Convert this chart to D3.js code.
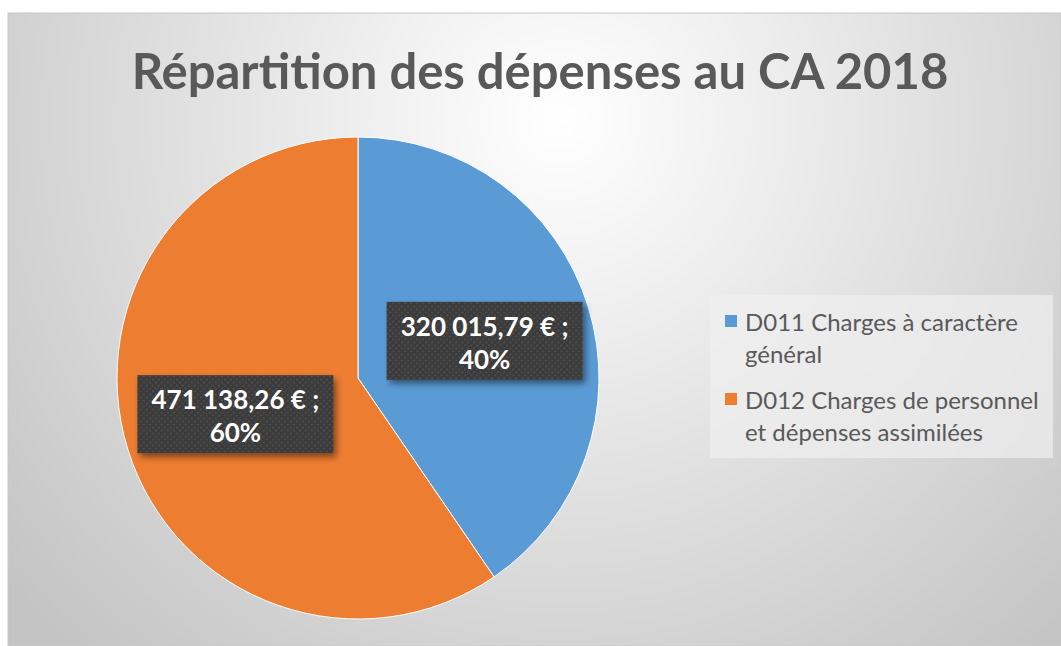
<!DOCTYPE html>
<html>
<head>
<meta charset="utf-8">
<script src="https://cdn.jsdelivr.net/npm/d3@7"></script>
<style>
  body { margin: 0; background: #fff; }
  svg { display: block; }
</style>
</head>
<body>
<svg id="chart"></svg>
<script>
// Chart data
const categories = ["D011 Charges à caractère général", "D012 Charges de personnel et dépenses assimilées"];
const values = [320015.79, 471138.26];
const valueLabels = ["320 015,79 € ;", "471 138,26 € ;"];
const percentLabels = ["40%", "60%"];
const legendLines = [["D011 Charges à caractère", "général"], ["D012 Charges de personnel", "et dépenses assimilées"]];
const colors = ["#5b9bd5", "#ed7d31"];
const title = "Répartition des dépenses au CA 2018";

const svgWidth = 1061;
const svgHeight = 646;
const font = "Lato, 'Open Sans', sans-serif";

const svg = d3.select("#chart")
    .attr("width", svgWidth)
    .attr("height", svgHeight);

const defs = svg.append("defs");

// Background gradient (light in the top middle, grey at the edges)
const bg = defs.append("radialGradient")
    .attr("id", "bgGrad")
    .attr("gradientUnits", "userSpaceOnUse")
    .attr("cx", 560).attr("cy", 120).attr("r", 720);
bg.append("stop").attr("offset", "0%").attr("stop-color", "#ffffff");
bg.append("stop").attr("offset", "100%").attr("stop-color", "#c4c4c4");

// Dot pattern for the label boxes
const pat = defs.append("pattern")
    .attr("id", "dots")
    .attr("width", 6).attr("height", 6)
    .attr("patternUnits", "userSpaceOnUse");
pat.append("rect").attr("width", 6).attr("height", 6).attr("fill", "#3a3a3a");
pat.append("circle").attr("cx", 1.5).attr("cy", 1.5).attr("r", 1).attr("fill", "#555");
pat.append("circle").attr("cx", 4.5).attr("cy", 4.5).attr("r", 1).attr("fill", "#555");

// Shadow
const shadow = defs.append("filter").attr("id", "shadow")
    .attr("x", "-20%").attr("y", "-20%").attr("width", "150%").attr("height", "160%");
shadow.append("feDropShadow")
    .attr("dx", 3).attr("dy", 4).attr("stdDeviation", 3)
    .attr("flood-color", "#000").attr("flood-opacity", 0.45);

svg.append("rect")
    .attr("x", 8).attr("y", 13)
    .attr("width", svgWidth - 8).attr("height", svgHeight - 13)
    .attr("fill", "url(#bgGrad)")
    .attr("stroke", "#c8c8c8");

// Title
svg.append("text")
    .attr("x", 540).attr("y", 89)
    .attr("text-anchor", "middle")
    .attr("font-family", font)
    .attr("font-weight", "bold")
    .attr("font-size", "49px")
    .attr("fill", "#595959")
    .text(title);

// Pie
const cx = 358, cy = 378, radius = 241;
const pie = d3.pie().sort(null).value(d => d);
const arc = d3.arc().innerRadius(0).outerRadius(radius);
const arcs = pie(values);

const g = svg.append("g").attr("transform", `translate(${cx}, ${cy})`);

g.selectAll(".slice")
    .data(arcs)
    .enter()
    .append("path")
    .attr("class", "slice")
    .attr("d", arc)
    .attr("fill", (d, i) => colors[i])
    .attr("stroke", "#fff")
    .attr("stroke-width", 1);

// Data labels
const labelArc = d3.arc().innerRadius(radius * 0.55).outerRadius(radius * 0.55);
const boxW = 196, boxH = 78;
const labelOffsets = [[0, 2], [4, -3]];

const labels = g.selectAll(".label")
    .data(arcs)
    .enter()
    .append("g")
    .attr("class", "label")
    .attr("transform", (d, i) => {
        const [x, y] = labelArc.centroid(d);
        return `translate(${x + labelOffsets[i][0]}, ${y + labelOffsets[i][1]})`;
    });

labels.append("rect")
    .attr("x", -boxW / 2).attr("y", -boxH / 2)
    .attr("width", boxW).attr("height", boxH)
    .attr("fill", "url(#dots)")
    .attr("filter", "url(#shadow)");

labels.append("text")
    .attr("text-anchor", "middle")
    .attr("y", -5)
    .attr("font-family", font)
    .attr("font-weight", "bold")
    .attr("font-size", "26px")
    .attr("fill", "#fff")
    .text((d, i) => valueLabels[i]);

labels.append("text")
    .attr("text-anchor", "middle")
    .attr("y", 28)
    .attr("font-family", font)
    .attr("font-weight", "bold")
    .attr("font-size", "26px")
    .attr("fill", "#fff")
    .text((d, i) => percentLabels[i]);

// Legend
const legend = svg.append("g").attr("transform", "translate(710, 295)");
legend.append("rect")
    .attr("width", 343).attr("height", 163)
    .attr("fill", "#f0f0f0")
    .attr("opacity", 0.7);

const items = legend.selectAll(".item")
    .data(categories)
    .enter()
    .append("g")
    .attr("class", "item")
    .attr("transform", (d, i) => `translate(15, ${18 + i * 78})`);

items.append("rect")
    .attr("y", 2)
    .attr("width", 12).attr("height", 12)
    .attr("fill", (d, i) => colors[i]);

items.each(function (d, i) {
    d3.select(this).selectAll("text")
        .data(legendLines[i])
        .enter()
        .append("text")
        .attr("x", 20)
        .attr("y", (t, j) => 18 + j * 32)
        .attr("font-family", font)
        .attr("font-size", "24px")
        .attr("fill", "#595959")
        .text(t => t);
});
</script>
</body>
</html>
